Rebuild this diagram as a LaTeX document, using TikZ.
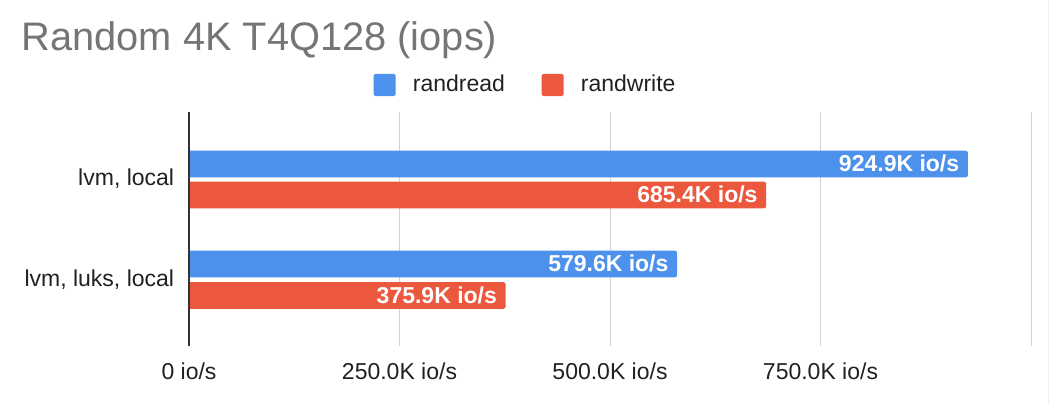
\documentclass[tikz,border=0pt]{standalone}
\usepackage{fontspec}
\setmainfont{Liberation Sans}
\usetikzlibrary{positioning}
\definecolor{readblue}{RGB}{76,145,236}
\definecolor{writered}{RGB}{236,88,62}
\definecolor{titlegray}{RGB}{117,117,117}
\definecolor{gridgray}{RGB}{210,210,210}

\begin{document}
\begin{tikzpicture}[x=1pt,y=-1pt,line join=bevel,
  lbl/.style={inner sep=0pt,font=\fontsize{23}{23}\selectfont,text=black!87},
  barval/.style={inner sep=0pt,anchor=base east,font=\fontsize{23}{23}\selectfont\bfseries,text=white},
  keybox/.style={inner sep=0pt,minimum size=22pt,rounded corners=1.5pt},
  gridline/.style={draw=gridgray,line width=1pt}]
%%
\useasboundingbox[fill=white] (0,0) rectangle (1052,404);
\draw [black!6,line width=1pt] (1048,0) -- (1048,404);
%
\node (title) at (21.5,51) [anchor=base west,inner sep=0pt,font=\fontsize{39.8}{40}\selectfont,text=titlegray] {Random 4K T4Q128 (iops)};
  \node (key_read) at (384.5,85) [keybox,fill=readblue] {};
  \node (key_read_txt) at (412.7,91.7) [lbl,anchor=base west] {randread};
  \node (key_write) at (552.5,85) [keybox,fill=writered] {};
  \node (key_write_txt) at (580.7,91.7) [lbl,anchor=base west] {randwrite};
%
\foreach \k in {250,500,750,1000}
  \draw [gridline] (189+\k*0.842,112) -- (189+\k*0.842,346);
\foreach \k/\txt in {0/0,250/250.0K,500/500.0K,750/750.0K}
  \node (tick_\k) at (189+\k*0.842,379) [lbl,anchor=base] {\txt{} io/s};
%
\foreach \name/\val/\ytop/\col in {read_a/924.9/150.7/readblue,write_a/685.4/181.7/writered,read_b/579.6/250.7/readblue,write_b/375.9/282.2/writered}{
  \pgfmathsetmacro\xend{189+\val*0.842}
  \fill [\col,rounded corners=2pt] (189,\ytop) -- (\xend,\ytop) -- (\xend,\ytop+26.6) -- (189,\ytop+26.6);
  \node (val_\name) at (\xend-8.4,\ytop+21) [barval] {\val{}K io/s};
}
%
\node (cat_a) at (174.3,185) [lbl,anchor=base east] {lvm, local};
  \node (cat_b) at (174.3,286.7) [lbl,anchor=base east] {lvm, luks, local};
\draw [black!80,line width=1.3pt] (189,112) -- (189,346);
%
\end{tikzpicture}
\end{document}
